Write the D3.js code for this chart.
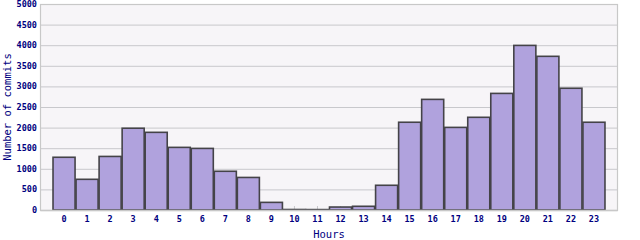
<!DOCTYPE html>
<html>
<head>
<meta charset="utf-8">
<script src="https://cdn.jsdelivr.net/npm/d3@7"></script>
<style>
  body { margin: 0; background: #fff; }
  text { font-family: "DejaVu Sans Mono", monospace; fill: #000080; }
</style>
</head>
<body>
<div id="chart"></div>
<script>
// commits per hour of day
const hours = d3.range(24).map(String);
const commits = [1280, 745, 1300, 1985, 1885, 1520, 1495, 940, 790, 185,
  12, 10, 72, 90, 600, 2130, 2685, 2005, 2250, 2830, 3995, 3730, 2955, 2130];
const yTicks = [0, 500, 1000, 1500, 2000, 2500, 3000, 3500, 4000, 4500, 5000];

const W = 640, H = 240;
const margin = { top: 4, right: 23, bottom: 30, left: 41 };
const width = W - margin.left - margin.right;
const height = H - margin.top - margin.bottom;

const svg = d3.select("#chart")
  .append("svg")
  .attr("width", W)
  .attr("height", H)
  .append("g")
  .attr("transform", `translate(${margin.left},${margin.top})`);

const x = d3.scaleBand()
  .domain(hours)
  .range([0, width])
  .paddingInner(0)
  .paddingOuter(0.5);

const y = d3.scaleLinear()
  .domain([0, 5000])
  .range([height, 0]);

// Plot background
svg.append("rect")
  .attr("width", width)
  .attr("height", height)
  .attr("fill", "#f7f5f8");

// Gridlines
svg.selectAll(".grid")
  .data(yTicks)
  .enter()
  .append("line")
  .attr("x1", 0)
  .attr("x2", width)
  .attr("y1", (d) => y(d) + 0.5)
  .attr("y2", (d) => y(d) + 0.5)
  .attr("stroke", "#c8c8cc")
  .attr("stroke-width", 1);

// Small ticks at category centers
svg.selectAll(".xtick")
  .data(hours)
  .enter()
  .append("line")
  .attr("x1", (d) => x(d) + x.bandwidth() / 2)
  .attr("x2", (d) => x(d) + x.bandwidth() / 2)
  .attr("y1", height)
  .attr("y2", height - 4)
  .attr("stroke", "#c8c8cc");

// Frame
svg.append("rect")
  .attr("x", -0.5)
  .attr("y", 0.5)
  .attr("width", width + 1)
  .attr("height", height)
  .attr("fill", "none")
  .attr("stroke", "#c8c8c8")
  .attr("stroke-width", 1.2);

// Bars
svg.selectAll(".bar")
  .data(commits)
  .enter()
  .append("rect")
  .attr("class", "bar")
  .attr("x", (d, i) => x(hours[i]) + 0.5)
  .attr("y", (d) => y(d))
  .attr("width", x.bandwidth() - 1)
  .attr("height", (d) => height - y(d))
  .attr("fill", "#b0a2dd")
  .attr("stroke", "#444348")
  .attr("stroke-width", 1.6);

// Bottom axis line
svg.append("line")
  .attr("x1", -0.5)
  .attr("x2", width + 0.5)
  .attr("y1", height + 0.5)
  .attr("y2", height + 0.5)
  .attr("stroke", "#c8c8c8")
  .attr("stroke-width", 1.5);

// Y tick labels
svg.selectAll(".ylab")
  .data(yTicks)
  .enter()
  .append("text")
  .attr("x", -4)
  .attr("y", (d) => y(d) + 3)
  .attr("text-anchor", "end")
  .style("font-size", "8.5px")
  .style("font-weight", "bold")
  .text((d) => d);

// X tick labels
svg.selectAll(".xlab")
  .data(hours)
  .enter()
  .append("text")
  .attr("x", (d) => x(d) + x.bandwidth() / 2)
  .attr("y", height + 12)
  .attr("text-anchor", "middle")
  .style("font-size", "8.5px")
  .style("font-weight", "bold")
  .text((d) => d);

// Axis titles
svg.append("text")
  .attr("x", width / 2)
  .attr("y", height + 28)
  .attr("text-anchor", "middle")
  .style("font-size", "10.5px")
  .text("Hours");

svg.append("text")
  .attr("transform", "rotate(-90)")
  .attr("x", -height / 2)
  .attr("y", -30)
  .attr("text-anchor", "middle")
  .style("font-size", "10.5px")
  .text("Number of commits");
</script>
</body>
</html>
